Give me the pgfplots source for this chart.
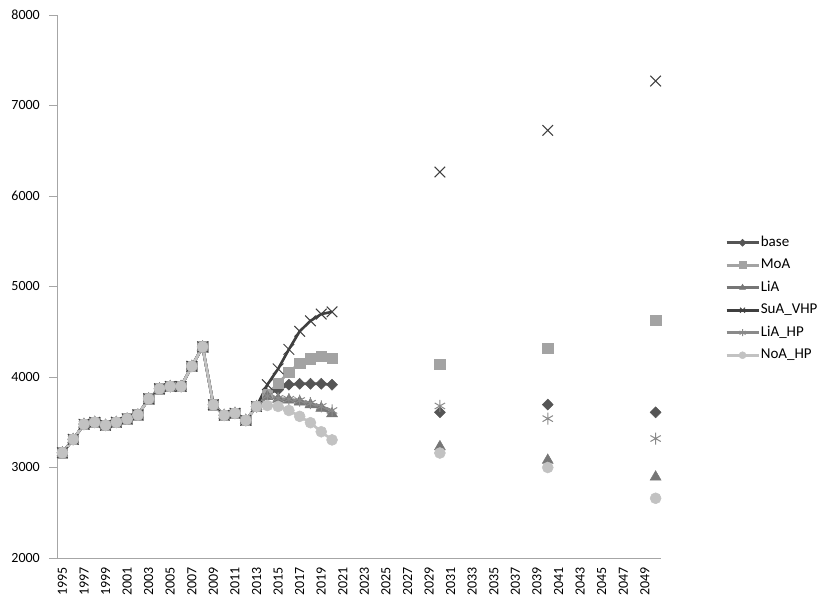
\documentclass[border=0pt]{standalone}
\usepackage{fontspec}
\setmainfont{Carlito}
\usepackage{pgfplots}
\usepackage{pgfplotstable}
\pgfplotsset{compat=1.18}
\definecolor{cbase}{HTML}{555555}
\definecolor{cmoa}{HTML}{A3A3A3}
\definecolor{clia}{HTML}{767676}
\definecolor{csua}{HTML}{3F3F3F}
\definecolor{cliahp}{HTML}{8A8A8A}
\definecolor{cnoa}{HTML}{C2C2C2}
\definecolor{axisgray}{HTML}{A6A6A6}
\newcommand{\tfont}{\fontsize{14}{16}\selectfont}
\newcommand{\lfont}{\fontsize{15}{17}\selectfont}

\pgfplotstableread{
year base MoA LiA SuA LiAHP NoA
1995 3163 3163 3163 3163 3163 3163
1996 3311 3311 3311 3311 3311 3311
1997 3478 3478 3478 3478 3478 3478
1998 3500 3500 3500 3500 3500 3500
1999 3467 3467 3467 3467 3467 3467
2000 3500 3500 3500 3500 3500 3500
2001 3537 3537 3537 3537 3537 3537
2002 3581 3581 3581 3581 3581 3581
2003 3759 3759 3759 3759 3759 3759
2004 3870 3870 3870 3870 3870 3870
2005 3896 3896 3896 3896 3896 3896
2006 3896 3896 3896 3896 3896 3896
2007 4119 4119 4119 4119 4119 4119
2008 4333 4333 4333 4333 4333 4333
2009 3693 3693 3693 3693 3693 3693
2010 3578 3578 3578 3578 3578 3578
2011 3600 3600 3600 3600 3600 3600
2012 3522 3522 3522 3522 3522 3522
2013 3674 3674 3674 3674 3674 3674
2014 3810 3810 3785 3915 3790 3685
2015 3860 3930 3755 4090 3765 3675
2016 3915 4055 3745 4305 3755 3630
2017 3925 4150 3725 4505 3740 3565
2018 3925 4200 3695 4620 3710 3495
2019 3925 4230 3655 4695 3675 3395
2020 3915 4210 3595 4720 3630 3305
}\hist

\pgfplotstableread{
year base MoA LiA SuA LiAHP NoA
2030 3610 4140 3230 6265 3680 3160
2040 3695 4320 3080 6725 3540 3000
2050 3610 4625 2895 7270 3320 2660
}\future

\begin{document}
\begin{tikzpicture}
\begin{axis}[
  at={(0,0)}, anchor=south west,
  scale only axis, width=604pt, height=543pt,
  xmin=1994.5, xmax=2050.5, ymin=2000, ymax=8000,
  ytick={2000,3000,4000,5000,6000,7000,8000},
  yticklabels={2000,3000,4000,5000,6000,7000,8000},
  xtick={1995,1997,...,2049},
  minor xtick={1994.5,1995.5,...,2050.5},
  scaled y ticks=false, scaled x ticks=false,
  axis x line*=bottom, axis y line*=left,
  axis line style={color=axisgray, line width=0.8pt, -},
  tick align=outside,
  major tick length=8pt,
  minor tick length=5pt,
  xtick style={draw=none},
  minor x tick style={color=axisgray, line width=0.8pt},
  ytick style={color=axisgray, line width=0.8pt},
  xticklabel={\tfont\pgfmathprintnumber[1000 sep={}, assume math mode=true]{\tick}},
  xticklabel style={rotate=90, anchor=east, inner sep=0pt},
  xticklabel shift=1pt,
  yticklabel style={font=\tfont, anchor=east, inner sep=0pt},
  yticklabel shift=9pt,
  legend style={draw=none, fill=none, at={(1.106,0.477)}, anchor=west,
    font=\lfont, inner sep=0pt,
    nodes={inner sep=1pt, text height=10pt, text depth=2.5pt},
    row sep=8pt},
  legend cell align=left,
  legend image code/.code={
    \draw[#1, line width=2.6pt, mark size=3.5pt, mark repeat=2, mark phase=2] plot coordinates {(0pt,0pt) (16pt,0pt) (32pt,0pt)};
  },
]
\addplot[line width=2.6pt, color=cbase, mark=diamond*, mark size=5.5pt, mark options={solid, xscale=1.33, fill=cbase, draw=cbase, line width=0.5pt}] table[x=year, y=base] {\hist};
\addlegendentry{base}
\addplot[line width=2.6pt, color=cmoa, mark=square*, mark size=5.2pt, mark options={solid, fill=cmoa, draw=cmoa, line width=0.5pt}] table[x=year, y=MoA] {\hist};
\addlegendentry{MoA}
\addplot[line width=2.6pt, color=clia, mark=triangle*, mark size=6.3pt, mark options={solid, fill=clia, draw=clia, line width=0.5pt}] table[x=year, y=LiA] {\hist};
\addlegendentry{LiA}
\addplot[line width=2.6pt, color=csua, mark=x, mark size=7.5pt, mark options={solid, draw=csua, line width=1pt}] table[x=year, y=SuA] {\hist};
\addlegendentry{SuA\_VHP}
\addplot[line width=2.6pt, color=cliahp, mark=asterisk, mark size=6pt, mark options={solid, draw=cliahp, line width=1pt}] table[x=year, y=LiAHP] {\hist};
\addlegendentry{LiA\_HP}
\addplot[line width=2.6pt, color=cnoa, mark=*, mark size=5.5pt, mark options={solid, fill=cnoa, draw=cnoa, line width=0.5pt}] table[x=year, y=NoA] {\hist};
\addlegendentry{NoA\_HP}

\addplot[forget plot, only marks, mark=diamond*, mark size=5.5pt, mark options={xscale=1.33, fill=cbase, draw=cbase, line width=0.5pt}] table[x=year, y=base] {\future};
\addplot[forget plot, only marks, mark=square*, mark size=5.2pt, mark options={fill=cmoa, draw=cmoa, line width=0.5pt}] table[x=year, y=MoA] {\future};
\addplot[forget plot, only marks, mark=triangle*, mark size=6.3pt, mark options={fill=clia, draw=clia, line width=0.5pt}] table[x=year, y=LiA] {\future};
\addplot[forget plot, only marks, mark=x, mark size=7.5pt, mark options={draw=csua, line width=1pt}] table[x=year, y=SuA] {\future};
\addplot[forget plot, only marks, mark=asterisk, mark size=6pt, mark options={draw=cliahp, line width=1pt}] table[x=year, y=LiAHP] {\future};
\addplot[forget plot, only marks, mark=*, mark size=5.5pt, mark options={fill=cnoa, draw=cnoa, line width=0.5pt}] table[x=year, y=NoA] {\future};
\end{axis}
\pgfresetboundingbox
\path (-57pt,-41pt) rectangle (761pt,558pt);
\end{tikzpicture}
\end{document}
